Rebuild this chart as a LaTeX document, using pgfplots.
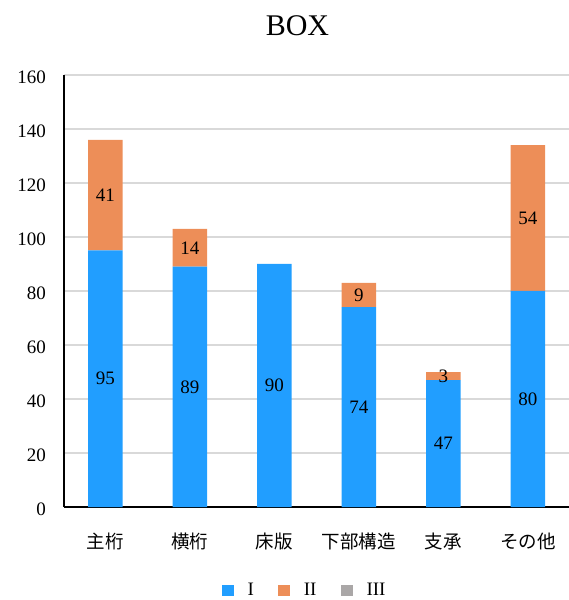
\documentclass[border=0pt]{standalone}
\usepackage{fontspec}
\setmainfont{Liberation Serif}
\newfontfamily\jp{Noto Sans CJK JP}
\usepackage{pgfplots}
\pgfplotsset{compat=1.18}
\definecolor{serI}{RGB}{33,158,255}
\definecolor{serII}{RGB}{237,142,88}
\definecolor{serIII}{RGB}{170,167,167}
\definecolor{gridc}{RGB}{217,217,217}

\begin{document}
\begin{tikzpicture}
\path[use as bounding box] (-64pt,-93pt) rectangle (505pt,507pt);
\begin{axis}[
    at={(0,0)}, anchor=south west,
    scale only axis,
    width=505.3pt, height=432pt,
    ybar stacked,
    bar width=34.5pt,
    xmin=-0.49, xmax=5.49,
    ymin=0, ymax=160,
    ytick={0,20,...,160},
    xtick={0,...,5},
    xticklabels={主桁,横桁,床版,下部構造,支承,その他},
    axis x line=bottom, axis y line=left,
    axis line style={-, black, line width=1.6pt},
    major tick length=0pt,
    ymajorgrids,
    grid style={gridc, line width=1.2pt},
    /pgf/number format/assume math mode=true,
    ticklabel style={font=\fontsize{19}{20}\selectfont},
    yticklabel style={anchor=east, inner sep=0pt, xshift=-18pt, yshift=-2pt},
    xticklabel style={anchor=north, inner sep=0pt, yshift=-26pt, font=\fontsize{18.5}{20}\selectfont\jp},
    title={BOX},
    title style={font=\fontsize{30}{32}\selectfont, anchor=base, at={(rel axis cs:0.462,1)}, yshift=33pt},
    legend style={at={(rel axis cs:0.474,0)}, yshift=-83pt, anchor=center, draw=none,
        nodes={font=\fontsize{19}{20}\selectfont, inner sep=0pt},
        /tikz/every odd column/.append style={column sep=14pt},
        /tikz/every even column/.append style={column sep=24pt}},
    legend columns=-1,
    legend image code/.code={\fill[#1] (0pt,-5.5pt) rectangle (12pt,5.5pt);},
    visualization depends on=rawy \as \rawyval,
    nodes near coords={\ifdim\rawyval pt>0pt \pgfmathprintnumber{\rawyval}\fi},
    every node near coord/.append style={anchor=center, font=\fontsize{19}{20}\selectfont},
]
\addplot[fill=serI, draw=none] coordinates {(0,95) (1,89) (2,90) (3,74) (4,47) (5,80)};
\addplot[fill=serII, draw=none] coordinates {(0,41) (1,14) (2,0) (3,9) (4,3) (5,54)};
\addplot[fill=serIII, draw=none, nodes near coords={}] coordinates {(0,0) (1,0) (2,0) (3,0) (4,0) (5,0)};
\legend{I,II,III}
\end{axis}
\end{tikzpicture}
\end{document}
